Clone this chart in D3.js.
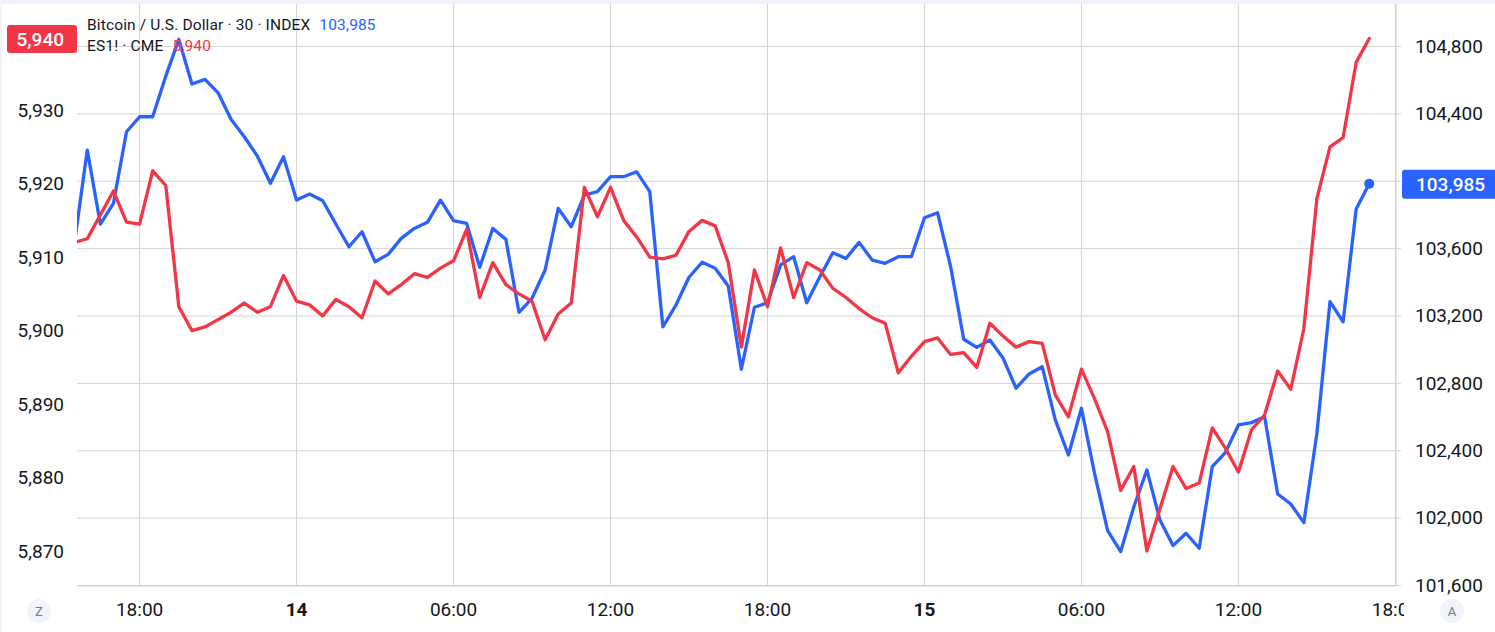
<!DOCTYPE html>
<html><head><meta charset="utf-8">
<script src="https://cdn.jsdelivr.net/npm/d3@7"></script>
<style>html,body{margin:0;padding:0;background:#fff;overflow:hidden}svg{display:block;font-family:Roboto,"Noto Sans",sans-serif}</style>
</head><body><svg id="chart" width="1495" height="632"></svg>
<script>
// ---- data ----
const startTime = "2025-05-13T15:30:00Z";   // first 30-min bar
const endTime = "2025-05-15T17:30:00Z";     // exclusive end (last bar 17:00)
const btcValues = [
103621,104185,103746,103869,104294,104383,104383,104624,104842,104577,
104605,104525,104367,104264,104150,103988,104145,103888,103924,103884,
103746,103611,103700,103522,103566,103661,103720,103756,103888,103766,
103750,103489,103720,103655,103222,103305,103473,103839,103730,103918,
103938,104027,104027,104056,103938,103136,103265,103430,103519,103483,
103378,102884,103252,103279,103503,103552,103279,103433,103576,103542,
103637,103532,103513,103552,103552,103783,103813,103493,103062,103014,
103058,102951,102771,102856,102899,102583,102375,102652,102266,101926,
101801,102066,102286,101989,101837,101910,101821,102306,102389,102553,
102567,102602,102143,102084,101973,102504,103285,103166,103835,103985];
const esValues = [
5912.0,5912.5,5915.75,5919.0,5914.75,5914.5,5921.75,5919.75,5903.25,5900.0,
5900.5,5901.5,5902.5,5903.75,5902.5,5903.25,5907.5,5904.0,5903.5,5902.0,
5904.25,5903.25,5901.75,5906.75,5905.0,5906.25,5907.75,5907.25,5908.5,5909.5,
5913.75,5904.5,5909.25,5906.25,5905.0,5904.0,5898.75,5902.25,5903.75,5919.5,
5915.5,5919.5,5915.0,5912.75,5910.0,5909.75,5910.25,5913.5,5915.0,5914.25,
5909.25,5897.75,5908.25,5903.25,5911.25,5904.5,5909.25,5908.25,5905.75,5904.5,
5903.0,5901.75,5901.0,5894.25,5896.5,5898.5,5899.0,5896.75,5897.0,5895.0,
5901.0,5899.25,5897.75,5898.5,5898.25,5891.25,5888.25,5894.75,5890.75,5886.25,
5878.25,5881.5,5870.0,5875.75,5881.5,5878.5,5879.25,5886.75,5884.0,5880.75,
5886.5,5888.5,5894.5,5892.0,5900.25,5918.0,5925.0,5926.25,5936.5,5939.75];
const timeTickDates = ["2025-05-13T18:00:00Z","2025-05-14T00:00:00Z","2025-05-14T06:00:00Z",
  "2025-05-14T12:00:00Z","2025-05-14T18:00:00Z","2025-05-15T00:00:00Z","2025-05-15T06:00:00Z",
  "2025-05-15T12:00:00Z","2025-05-15T18:00:00Z"];
const timeTickLabels = ["18:00","14","06:00","12:00","18:00","15","06:00","12:00","18:00"];
const boldTickLabels = ["14","15"];
const btcTicks = [101600,102000,102400,102800,103200,103600,104000,104400,104800];
const esTicks = [5870,5880,5890,5900,5910,5920,5930];
const btcName = "Bitcoin / U.S. Dollar · 30 · INDEX";
const esName = "ES1! · CME";

// ---- layout ----
const W = 1495, H = 632;
const L = 77, R = 1396, T = 4, B = 586;
const blue = "#2962ff", red = "#f23645", txt = "#131722", grid = "#d4d4d4";
const svg = d3.select("#chart");

const times = d3.utcMinute.every(30).range(new Date(startTime), new Date(endTime));
const x = d3.scaleUtc()
  .domain([new Date("2025-05-13T18:00:00Z"), new Date("2025-05-15T18:00:00Z")])
  .range([139.6, 1395.4]);
const yR = d3.scaleLinear().domain([101600, 104800]).range([585.5, 46.5]);
const yL = d3.scaleLinear().domain([5870, 5940]).range([551, 36.7]);
const fmt = d3.format(",.0f");

// frame
svg.append("rect").attr("x",0).attr("y",0).attr("width",W).attr("height",H).attr("fill","#fff");
svg.append("rect").attr("x",0).attr("y",0).attr("width",W).attr("height",T).attr("fill","#f0f3fa");
svg.append("rect").attr("x",0).attr("y",0).attr("width",2).attr("height",H).attr("fill","#f0f3fa");

const defs = svg.append("defs");
defs.append("clipPath").attr("id","plot").append("rect")
  .attr("x",L).attr("y",T).attr("width",R-L).attr("height",B-T);
defs.append("clipPath").attr("id","tclip").append("rect")
  .attr("x",L).attr("y",B).attr("width",1404-L).attr("height",H-B);

// vertical grid
const tickDates = timeTickDates.map(d => new Date(d));
svg.append("g").selectAll("line").data(tickDates).join("line")
  .attr("x1",d=>x(d)).attr("x2",d=>x(d)).attr("y1",T).attr("y2",B)
  .attr("stroke",grid).attr("stroke-width",1);

// horizontal grid (right scale) + ticks
svg.append("g").selectAll("line").data(btcTicks).join("line")
  .attr("x1",L).attr("x2",R+5).attr("y1",d=>yR(d)).attr("y2",d=>yR(d))
  .attr("stroke",grid).attr("stroke-width",1);

// axes lines
svg.append("line").attr("x1",L).attr("x2",R).attr("y1",B).attr("y2",B).attr("stroke","#cfcfcf");
svg.append("line").attr("x1",R).attr("x2",R).attr("y1",T).attr("y2",B).attr("stroke","#cfcfcf");

// series
const plotG = svg.append("g").attr("clip-path","url(#plot)");
const lineB = d3.line().x((d,i)=>x(times[i])).y(d=>yR(d)).curve(d3.curveLinear);
const lineE = d3.line().x((d,i)=>x(times[i])).y(d=>yL(d)).curve(d3.curveLinear);
plotG.append("path").attr("d",lineB(btcValues)).attr("fill","none").attr("stroke",blue)
  .attr("stroke-width",3.3).attr("stroke-linejoin","round").attr("stroke-linecap","round");
plotG.append("path").attr("d",lineE(esValues)).attr("fill","none").attr("stroke",red)
  .attr("stroke-width",3.3).attr("stroke-linejoin","round").attr("stroke-linecap","round");
const lastI = btcValues.length - 1;
svg.append("circle").attr("cx",x(times[lastI])).attr("cy",yR(btcValues[lastI])).attr("r",5).attr("fill",blue);

// time axis labels
svg.append("g").attr("clip-path","url(#tclip)").selectAll("text").data(tickDates).join("text")
  .attr("x",d=>x(d)).attr("y",616).attr("text-anchor","middle")
  .attr("font-size",19).attr("fill",txt)
  .attr("font-weight",(d,i)=>boldTickLabels.includes(timeTickLabels[i])?"bold":"normal")
  .text((d,i)=>timeTickLabels[i]);

// right axis labels
svg.append("g").selectAll("text").data(btcTicks.filter(v=>Math.abs(yR(v)-yR(btcValues[lastI]))>20)).join("text")
  .attr("x",1415).attr("y",d=>yR(d)).attr("dy","0.33em")
  .attr("font-size",19).attr("fill",txt).text(d=>fmt(d));

// left axis labels
svg.append("g").selectAll("text").data(esTicks).join("text")
  .attr("x",64).attr("y",d=>yL(d)).attr("dy","0.35em").attr("text-anchor","end")
  .attr("font-size",19).attr("fill",txt).text(d=>fmt(d));

// last value tags
const yb = yR(btcValues[lastI]);
svg.append("rect").attr("x",1402).attr("y",yb-14).attr("width",W-1402+4).attr("height",29)
  .attr("rx",3).attr("fill",blue);
svg.append("text").attr("x",1416).attr("y",yb).attr("dy","0.37em").attr("font-size",19)
  .attr("font-weight",500).attr("fill","#fff").text(fmt(btcValues[lastI]));
const ye = yL(esValues[lastI]);
svg.append("rect").attr("x",7).attr("y",ye-13.5).attr("width",70).attr("height",28)
  .attr("rx",3).attr("fill",red);
svg.append("text").attr("x",64).attr("y",ye).attr("dy","0.37em").attr("text-anchor","end")
  .attr("font-size",19).attr("font-weight",500).attr("fill","#fff").text(fmt(esValues[lastI]));

// legend
const lg1 = svg.append("text").attr("x",87).attr("y",30).attr("font-size",15.5)
  .attr("letter-spacing",0.15).attr("fill",txt);
lg1.append("tspan").text(btcName);
lg1.append("tspan").attr("dx",9).attr("fill",blue).text(fmt(btcValues[lastI]));
const lg2 = svg.append("text").attr("x",87).attr("y",50.7).attr("font-size",15.5)
  .attr("letter-spacing",0.15).attr("fill",txt);
lg2.append("tspan").text(esName);
lg2.append("tspan").attr("dx",9).attr("fill",red).text(fmt(esValues[lastI]));

// corner buttons
[[39,"Z"],[1452,"A"]].forEach(([cx,l])=>{
  svg.append("circle").attr("cx",cx).attr("cy",611).attr("r",12).attr("fill","#f0f3fa");
  svg.append("text").attr("x",cx).attr("y",611).attr("dy","0.36em").attr("text-anchor","middle")
    .attr("font-size",13).attr("fill","#787b86").text(l);
});
</script></body></html>
